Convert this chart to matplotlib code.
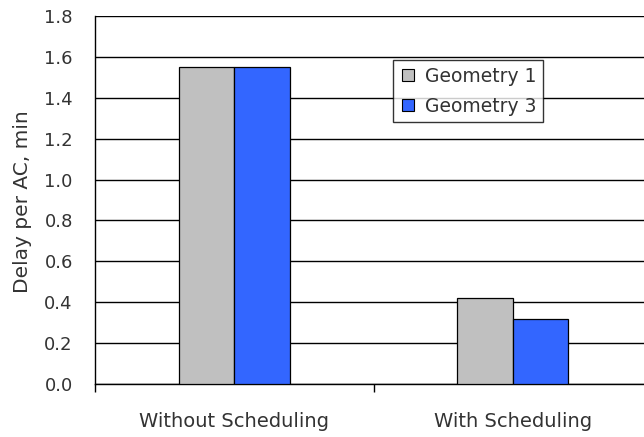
import matplotlib
matplotlib.use("Agg")
import matplotlib.pyplot as plt
import numpy as np
from matplotlib.lines import Line2D

categories = ["Without Scheduling", "With Scheduling"]
series_names = ["Geometry 1", "Geometry 3"]
geometry1 = [1.55, 0.42]
geometry3 = [1.55, 0.32]
yticks = [0.0, 0.2, 0.4, 0.6, 0.8, 1.0, 1.2, 1.4, 1.6, 1.8]

colors = ["#C0C0C0", "#3366FF"]
text_color = "#333333"

W, H = 644, 437
fig = plt.figure(figsize=(W / 100, H / 100), dpi=100)
ax = fig.add_axes([95 / W, 1 - 384 / H, (652 - 95) / W, (384 - 16) / H])

x = np.arange(len(categories))
bw = 0.2
ax.bar(x - bw / 2, geometry1, bw, color=colors[0], edgecolor="black", linewidth=0.9, zorder=3)
ax.bar(x + bw / 2, geometry3, bw, color=colors[1], edgecolor="black", linewidth=0.9, zorder=3)

ax.set_xlim(-0.5, 1.5)
ax.set_ylim(0, 1.8)
ax.set_yticks(yticks)
ax.set_yticklabels([f"{v:.1f}" for v in yticks], fontsize=13, color=text_color)
ax.tick_params(axis="y", length=0, pad=16)

ax.set_xticks([-0.5, 0.5, 1.5])
ax.set_xticklabels([])
ax.set_xticks(x, minor=True)
ax.set_xticklabels(categories, minor=True, fontsize=14, color=text_color)
ax.tick_params(axis="x", which="major", length=6, width=1, direction="out", color="black")
ax.tick_params(axis="x", which="minor", length=0, pad=20)

ax.yaxis.grid(True, color="black", linewidth=1, zorder=0)
ax.set_axisbelow(True)
for s in ["top", "right"]:
    ax.spines[s].set_visible(False)
for s in ["left", "bottom"]:
    ax.spines[s].set_color("black")
    ax.spines[s].set_linewidth(1)

fig.text(23 / W, 1 - 202 / H, "Delay per AC, min", rotation=90,
         ha="center", va="center", fontsize=14.5, color=text_color)

handles = [Line2D([], [], marker="s", linestyle="none", markersize=8.5,
                  markerfacecolor=c, markeredgecolor="black", markeredgewidth=0.8)
           for c in colors]
leg = ax.legend(handles, series_names, loc="upper left",
                bbox_to_anchor=((393 - 95) / (652 - 95), 1 - (60 - 16) / (384 - 16)),
                fontsize=13.5, frameon=True, fancybox=False, borderaxespad=0,
                handletextpad=0.45, labelspacing=0.6, borderpad=0.35, handlelength=0.9)
leg.get_frame().set_edgecolor("black")
leg.get_frame().set_linewidth(1)
for t in leg.get_texts():
    t.set_color(text_color)

fig.savefig("out.png", dpi=100)
